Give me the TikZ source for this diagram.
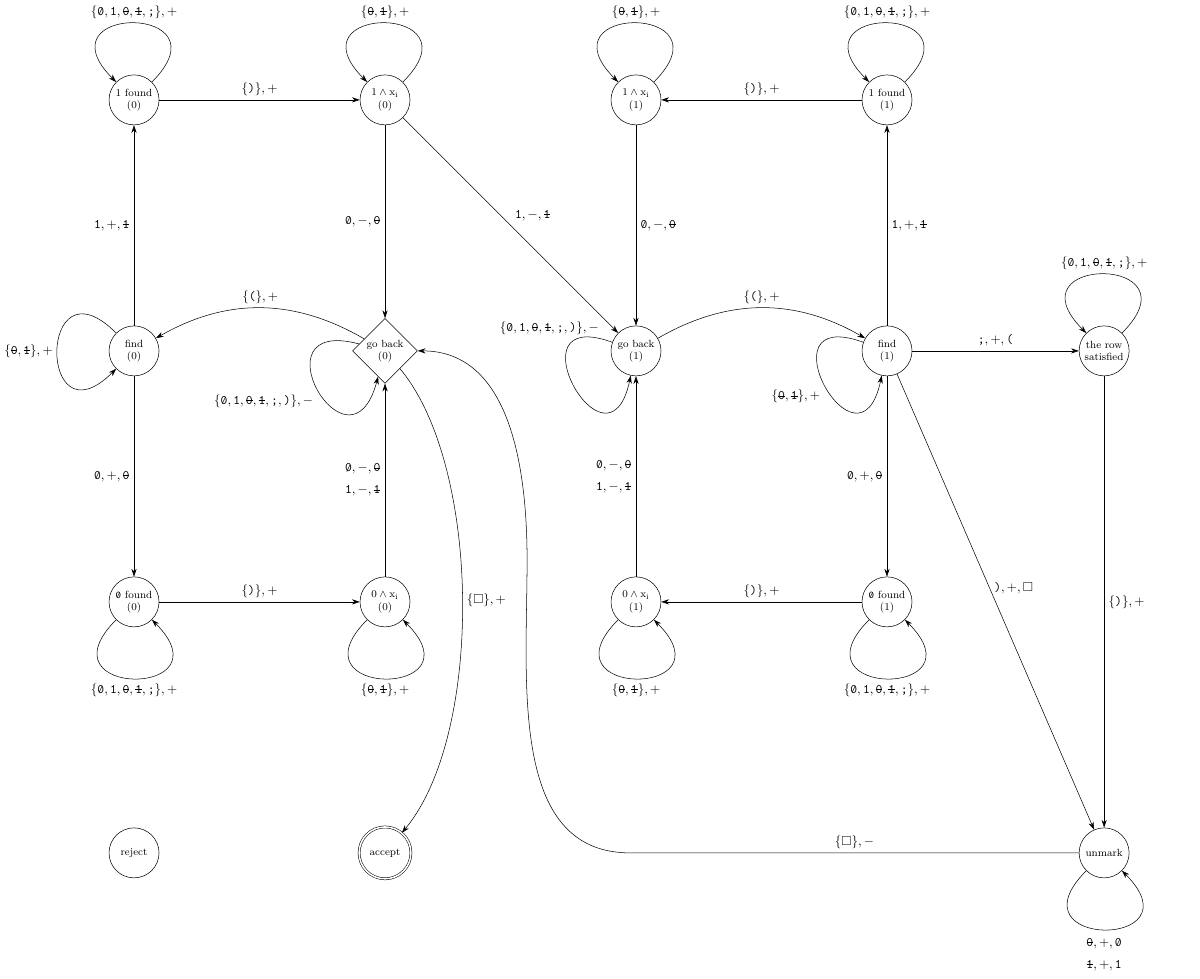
\documentclass[tikz,border=0pt]{standalone}
\usepackage{amssymb}
\usepackage{graphicx}
\usetikzlibrary{shapes.geometric,arrows.meta}

%% tape symbols: plain and marked digits
\newcommand{\szero}{\mbox{\ooalign{\texttt{0}\cr\hidewidth\raisebox{0.12ex}{\scalebox{0.7}{\texttt{/}}}\hidewidth\cr}}}
\newcommand{\mzero}{\mbox{\ooalign{\texttt{0}\cr\hidewidth\rule[0.27em]{0.5em}{0.045em}\hidewidth\cr}}}
\newcommand{\sone}{\texttt{1}}
\newcommand{\mone}{\mbox{\ooalign{\texttt{1}\cr\hidewidth\rule[0.27em]{0.5em}{0.045em}\hidewidth\cr}}}

\begin{document}
    \begin{tikzpicture}[x=6.777cm,y=6.777cm,>={Stealth[length=6pt,width=4pt]},
        tmstate/.style={draw,circle,minimum size=1.35cm,inner sep=0.5pt,align=center,font=\footnotesize},
        tmback/.style={draw,diamond,aspect=1,minimum size=1.75cm,inner sep=0pt,align=center,font=\footnotesize},
        tmacc/.style={tmstate,minimum size=1.4cm,double,double distance=1.2pt},
        selfloop/.style={min distance=3cm}]
        \useasboundingbox (-0.534,0.398) rectangle (4.247,-3.502);
        %% states, top row
        \node[tmstate] (fnd1a) at (0,0) {1 found\\(0)};
        \node[tmstate] (and1a) at (1,0) {$1\wedge\mathrm{x}_\mathrm{i}$\\(0)};
        \node[tmstate] (and1b) at (2,0) {$1\wedge\mathrm{x}_\mathrm{i}$\\(1)};
        \node[tmstate] (fnd1b) at (3,0) {1 found\\(1)};
        %% states, middle row
        \node[tmstate] (finda) at (0,-1) {find\\(0)};
        \node[tmback] (backa) at (1,-1) {go back\\(0)};
        \node[tmstate] (backb) at (2,-1) {go back\\(1)};
        \node[tmstate] (findb) at (3,-1) {find\\(1)};
        \node[tmstate] (rowsat) at (3.865,-1) {the row\\satisfied};
        %% states, lower row
        \node[tmstate] (fnd0a) at (0,-2) {\szero{} found\\(0)};
        \node[tmstate] (and0a) at (1,-2) {$0\wedge\mathrm{x}_\mathrm{i}$\\(0)};
        \node[tmstate] (and0b) at (2,-2) {$0\wedge\mathrm{x}_\mathrm{i}$\\(1)};
        \node[tmstate] (fnd0b) at (3,-2) {\szero{} found\\(1)};
        %% halting states
        \node[tmstate] (reject) at (0,-3) {reject};
        \node[tmacc] (accept) at (1,-3) {accept};
        \node[tmstate] (unmark) at (3.865,-3) {unmark};
        \coordinate (bk1) at (1.976,-3);
        \coordinate (bk2) at (1.566,-1.833);
        %% loops
        \draw[->] (fnd1a) to[out=45,in=135,selfloop] node[above] {$\{\szero,\sone,\mzero,\mone,\texttt{;}\},+$} (fnd1a);
        \draw[->] (and1a) to[out=45,in=135,selfloop] node[above] {$\{\mzero,\mone\},+$} (and1a);
        \draw[->] (and1b) to[out=45,in=135,selfloop] node[above] {$\{\mzero,\mone\},+$} (and1b);
        \draw[->] (fnd1b) to[out=45,in=135,selfloop] node[above] {$\{\szero,\sone,\mzero,\mone,\texttt{;}\},+$} (fnd1b);
        \draw[->] (rowsat) to[out=45,in=135,selfloop] node[above] {$\{\szero,\sone,\mzero,\mone,\texttt{;}\},+$} (rowsat);
        \draw[->] (finda) to[out=135,in=225,selfloop] node[left] {$\{\mzero,\mone\},+$} (finda);
        \draw[->] (backa) to[out=165,in=255,selfloop] node[below left] {$\{\szero,\sone,\mzero,\mone,\texttt{;},\texttt{)}\},-$} (backa);
        \draw[->] (backb) to[out=160,in=258,selfloop] node[pos=0.03,above left] {$\{\szero,\sone,\mzero,\mone,\texttt{;},\texttt{)}\},-$} (backb);
        \draw[->] (findb) to[out=160,in=258,selfloop] node[below left] {$\{\mzero,\mone\},+$} (findb);
        \draw[->] (fnd0a) to[out=225,in=315,selfloop] node[below] {$\{\szero,\sone,\mzero,\mone,\texttt{;}\},+$} (fnd0a);
        \draw[->] (and0a) to[out=225,in=315,selfloop] node[below] {$\{\mzero,\mone\},+$} (and0a);
        \draw[->] (and0b) to[out=225,in=315,selfloop] node[below] {$\{\mzero,\mone\},+$} (and0b);
        \draw[->] (fnd0b) to[out=225,in=315,selfloop] node[below] {$\{\szero,\sone,\mzero,\mone,\texttt{;}\},+$} (fnd0b);
        \draw[->] (unmark) to[out=225,in=315,selfloop] node[below=3pt,align=center] {$\mzero,+,\szero$\\[5pt]$\mone,+,\sone$} (unmark);
        %% row (0)
        \draw[->] (fnd1a) -- node[above] {$\{\texttt{)}\},+$} (and1a);
        \draw[->] (finda) -- node[left] {$\sone,+,\mone$} (fnd1a);
        \draw[->] (finda) -- node[left] {$\szero,+,\mzero$} (fnd0a);
        \draw[->] (fnd0a) -- node[above] {$\{\texttt{)}\},+$} (and0a);
        \draw[->] (and1a) -- node[left] {$\szero,-,\mzero$} (backa);
        \draw[->] (and0a) -- node[left,align=center] {$\szero,-,\mzero$\\[5pt]$\sone,-,\mone$} (backa);
        \draw[->] (backa) to[bend right=30] node[above] {$\{\texttt{(}\},+$} (finda);
        \draw[->] (backa) to[out=-50,in=50,looseness=0.7] node[right] {$\{\square\},+$} (accept);
        %% row (1)
        \draw[->] (and1a) -- node[above right] {$\sone,-,\mone$} (backb);
        \draw[->] (fnd1b) -- node[above] {$\{\texttt{)}\},+$} (and1b);
        \draw[->] (and1b) -- node[right] {$\szero,-,\mzero$} (backb);
        \draw[->] (findb) -- node[right] {$\sone,+,\mone$} (fnd1b);
        \draw[->] (findb) -- node[left] {$\szero,+,\mzero$} (fnd0b);
        \draw[->] (fnd0b) -- node[above] {$\{\texttt{)}\},+$} (and0b);
        \draw[->] (and0b) -- node[left,align=center] {$\szero,-,\mzero$\\[5pt]$\sone,-,\mone$} (backb);
        \draw[->] (backb) to[bend left=30] node[above] {$\{\texttt{(}\},+$} (findb);
        %% end of a row
        \draw[->] (findb) -- node[above] {$\texttt{;},+,\texttt{(}$} (rowsat);
        \draw[->] (findb) -- node[pos=0.47,right] {$\texttt{)},+,\square$} (unmark);
        \draw[->] (rowsat) -- node[right] {$\{\texttt{)}\},+$} (unmark);
        \draw[->] (unmark) -- node[above] {$\{\square\},-$} (bk1) to[out=180,in=-90] (bk2) to[out=90,in=0] (backa.east);
    \end{tikzpicture}
\end{document}
